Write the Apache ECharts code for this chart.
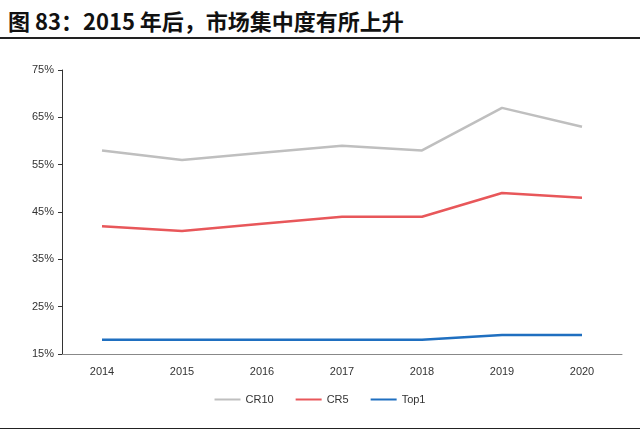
<!DOCTYPE html>
<html><head><meta charset="utf-8">
<script src="https://cdn.jsdelivr.net/npm/echarts@6/dist/echarts.min.js"></script>
<style>body{margin:0;background:#fff}#t{position:absolute;left:8px;top:4px;font:bold 22px "Noto Sans CJK SC",serif;color:#111}
#l1{position:absolute;left:0;right:0;top:37px;border-top:2px solid #222}#l2{position:absolute;left:0;right:0;top:428px;border-top:1px solid #222}</style>
</head><body>
<div id="t">图 83：2015 年后，市场集中度有所上升</div><div id="l1"></div><div id="l2"></div>
<div id="c" style="width:640px;height:434px"></div>
<script>
var years = ['2014', '2015', '2016', '2017', '2018', '2019', '2020'];
var cr10 = [58, 56, 57.5, 59, 58, 67, 63];
var cr5 = [42, 41, 42.5, 44, 44, 49, 48];
var top1 = [18, 18, 18, 18, 18, 19, 19];
var chart = echarts.init(document.getElementById('c'));
chart.setOption({
    animation: false,
    grid: {left: 62, right: 18, top: 70, bottom: 80},
    legend: {bottom: 24, itemWidth: 26, itemHeight: 2, itemGap: 22, icon: 'rect',
        textStyle: {fontSize: 11, color: '#333', fontFamily: 'Arial'}},
    xAxis: {type: 'category', data: years, boundaryGap: true,
        axisLine: {lineStyle: {color: '#888'}}, axisTick: {show: false},
        axisLabel: {color: '#333', fontSize: 11, margin: 12}},
    yAxis: {type: 'value', min: 15, max: 75, interval: 10,
        axisLine: {show: true, lineStyle: {color: '#333'}}, axisTick: {show: true, inside: false, length: 4},
        splitLine: {show: false},
        axisLabel: {formatter: '{value}%', color: '#333', fontSize: 11}},
    series: [
        {name: 'CR10', type: 'line', data: cr10, symbol: 'none', lineStyle: {width: 2.5, color: '#bfbfbf'}, itemStyle: {color: '#bfbfbf'}},
        {name: 'CR5', type: 'line', data: cr5, symbol: 'none', lineStyle: {width: 2.5, color: '#e8575a'}, itemStyle: {color: '#e8575a'}},
        {name: 'Top1', type: 'line', data: top1, symbol: 'none', lineStyle: {width: 2.5, color: '#1f6fc0'}, itemStyle: {color: '#1f6fc0'}}
    ]
});
</script></body></html>
